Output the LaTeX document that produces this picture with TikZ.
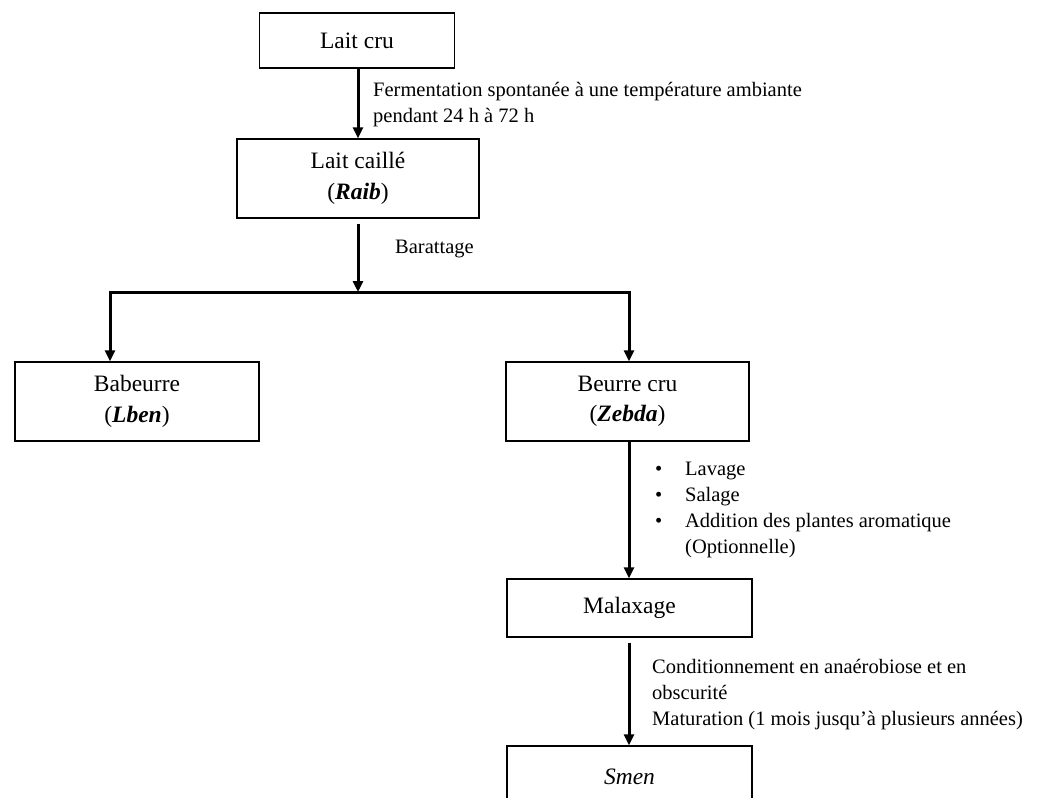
\documentclass[tikz,border=0pt]{standalone}
\usepackage{fontspec}
\setmainfont{Liberation Serif}
\usetikzlibrary{arrows.meta}
\begin{document}
\begin{tikzpicture}[x=1pt,y=-1pt,
  box/.style={draw,line width=1.3pt,inner sep=0pt,align=center,
    font=\fontsize{23.5}{30.5}\selectfont},
  flow/.style={line width=3pt,-{Triangle[length=11pt,width=10pt]}},
  note/.style={anchor=base west,align=left,inner sep=0pt,
    font=\fontsize{20.5}{25.8}\selectfont}]
\useasboundingbox (0,0) rectangle (1037,798);
\clip (0,0) rectangle (1037,798);

% process boxes
\node[box,minimum width=195pt,minimum height=55pt] (laitcru) at (357,40.5) {Lait cru};
\node[box,minimum width=242pt,minimum height=79pt] (caille) at (358,178.5)
  {Lait caillé\\(\textbf{\textit{Raib}})};
\node[box,minimum width=244pt,minimum height=79pt] (babeurre) at (137,401.5)
  {Babeurre\\(\textbf{\textit{Lben}})};
\node[box,minimum width=243pt,minimum height=79pt] (beurre) at (627.5,401.5)
  {Beurre cru\\(\textbf{\textit{Zebda}})};
\node[box,minimum width=245pt,minimum height=58pt] (malax) at (629.5,608) {Malaxage};
\node[box,minimum width=245pt,minimum height=62pt] (smen) at (629.5,777) {\textit{Smen}};

% branching points
\coordinate (split) at (358,292);
\coordinate (bl) at (110,292);
\coordinate (br) at (629,292);

% connectors
\draw[flow] (laitcru.south -| split) -- (caille.north -| split);
\draw[flow] ([yshift=-5pt]caille.south -| split) -- (split);
\draw[flow] (br) -- (bl) -- (bl |- babeurre.north);
\draw[flow] (bl) -- (br) -- (br |- beurre.north);
\draw[flow] (beurre.south -| br) -- (malax.north -| br);
\draw[flow] ([yshift=-5pt]malax.south -| br) -- (smen.north -| br);

% step annotations (base = baseline of the last line)
\node[note] (fermlbl) at (373,122)
  {Fermentation spontanée à une température ambiante\\pendant 24 h à 72 h};
\node[note] (barlbl) at (395,253) {Barattage};
\node[note] (steps) at (655,553)
  {\makebox[30pt][l]{\textbullet}Lavage\\
   \makebox[30pt][l]{\textbullet}Salage\\
   \makebox[30pt][l]{\textbullet}Addition des plantes aromatique\\
   \hspace*{30pt}(Optionnelle)};
\node[note] (condlbl) at (652,725)
  {Conditionnement en anaérobiose et en\\obscurité\\Maturation (1 mois jusqu’à plusieurs années)};
\end{tikzpicture}
\end{document}
